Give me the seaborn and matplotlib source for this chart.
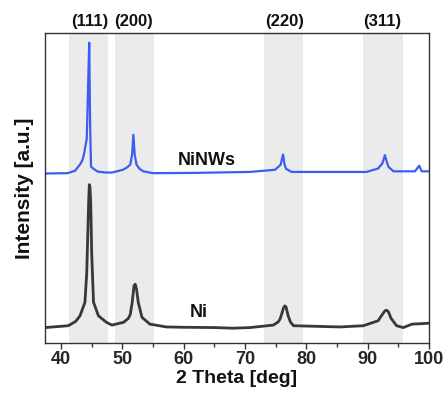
import matplotlib
matplotlib.use('Agg')
import matplotlib.pyplot as plt
import matplotlib.transforms as mtransforms
from matplotlib.ticker import MultipleLocator
import seaborn as sns

# Data (intensity in arbitrary units, 0-100 of axis height)
ninw_theta = [37.4, 41.1, 42.3, 43.1, 43.5, 43.8, 44.2, 44.45, 44.6, 44.75, 44.9, 45.3, 46.0,
              47.4, 48.3, 50.1, 50.8, 51.3, 51.6, 51.8, 52.0, 52.3, 52.8, 53.4, 55.0, 62.0,
              70.8, 74.9, 75.8, 76.2, 76.45, 76.7, 77.6, 89.8, 91.7, 92.4, 92.8, 93.1, 93.4,
              94.2, 97.7, 98.4, 98.8, 100.0]
ninw_intensity = [54.7, 54.8, 55.6, 57.6, 59.0, 61.4, 66.0, 85.0, 96.9, 70.0, 56.9, 56.2, 55.3,
                  55.0, 55.0, 55.9, 56.7, 57.6, 61.0, 67.2, 61.0, 57.6, 56.2, 55.4, 54.8, 54.9,
                  55.2, 55.9, 57.5, 60.8, 57.5, 56.2, 55.2, 55.2, 56.3, 58.0, 60.6, 58.5, 56.8,
                  55.4, 55.4, 57.2, 55.4, 55.4]

ni_theta = [37.4, 41.2, 42.4, 43.1, 43.9, 44.2, 44.5, 44.62, 44.72, 44.85, 45.0, 45.3, 46.1,
            47.4, 48.3, 50.2, 51.0, 51.3, 51.6, 51.9, 52.1, 52.3, 52.6, 53.2, 54.5, 57.2,
            60.0, 65.0, 68.0, 70.8, 74.6, 75.4, 75.7, 76.0, 76.3, 76.5, 76.7, 77.0, 77.4,
            77.9, 85.5, 89.3, 91.7, 92.3, 92.8, 93.1, 93.4, 93.8, 94.7, 95.8, 97.2, 100.0]
ni_intensity = [5.0, 5.6, 7.0, 8.8, 13.1, 22.8, 45.0, 51.1, 50.5, 45.0, 29.3, 13.2, 8.8,
                6.7, 5.8, 6.7, 8.0, 9.3, 13.0, 18.5, 19.0, 17.5, 13.1, 8.3, 6.1, 5.2,
                5.1, 5.0, 4.8, 5.0, 5.8, 6.8, 7.7, 9.5, 11.5, 12.0, 11.6, 9.0, 6.8,
                5.6, 5.2, 5.6, 7.2, 9.0, 10.4, 10.6, 10.0, 8.0, 5.6, 5.0, 6.1, 6.4]

band_lo = [41.3, 48.8, 73.1, 89.3]
band_hi = [47.7, 55.2, 79.5, 95.8]
peak_pos = [44.7, 51.9, 76.4, 92.3]
peak_labels = ['(111)', '(200)', '(220)', '(311)']

sns.set_theme(style='white')
plt.rcParams['font.family'] = ['Liberation Sans', 'DejaVu Sans']
plt.rcParams['font.weight'] = 'bold'

fig = plt.figure(figsize=(4.46, 3.98), dpi=100)
ax = fig.add_axes([0.101, 0.138, 0.861, 0.779])

for lo, hi in zip(band_lo, band_hi):
    ax.axvspan(lo, hi, color='#ebebeb', lw=0, zorder=0)

sns.lineplot(x=ninw_theta, y=ninw_intensity, color='#3d5cf2', lw=1.6, estimator=None, ax=ax)
sns.lineplot(x=ni_theta, y=ni_intensity, color='#383838', lw=2.0, estimator=None, ax=ax)

ax.text(63.7, 58.8, 'NiNWs', ha='center', va='center', fontsize=13, fontweight='bold', color='#111111')
ax.text(62.5, 10.0, 'Ni', ha='center', va='center', fontsize=13, fontweight='bold', color='#111111')

trans = mtransforms.blended_transform_factory(ax.transData, ax.transAxes)
for p, lab in zip(peak_pos, peak_labels):
    ax.text(p, 1.014, lab, transform=trans, ha='center', va='bottom', fontsize=12,
            fontweight='bold', color='#111111')

ax.set_xlim(37.4, 100)
ax.set_ylim(0, 100)
ax.set_yticks([])
ax.xaxis.set_major_locator(MultipleLocator(10))
ax.xaxis.set_minor_locator(MultipleLocator(5))
ax.tick_params(axis='x', which='major', direction='out', length=4, width=1, color='#333333',
               labelsize=13, pad=2, bottom=True)
ax.tick_params(axis='x', which='minor', direction='out', length=3, width=1, color='#333333', bottom=True)
for lab in ax.get_xticklabels():
    lab.set_fontweight('bold')

for s in ax.spines.values():
    s.set_visible(True)
    s.set_color('#333333')
    s.set_linewidth(1.0)

ax.set_xlabel('2 Theta [deg]', fontsize=14, fontweight='bold', labelpad=1, color='#111111')
ax.set_ylabel('Intensity [a.u.]', fontsize=15, fontweight='bold', labelpad=8, color='#111111')

fig.savefig('out.png', dpi=100)
